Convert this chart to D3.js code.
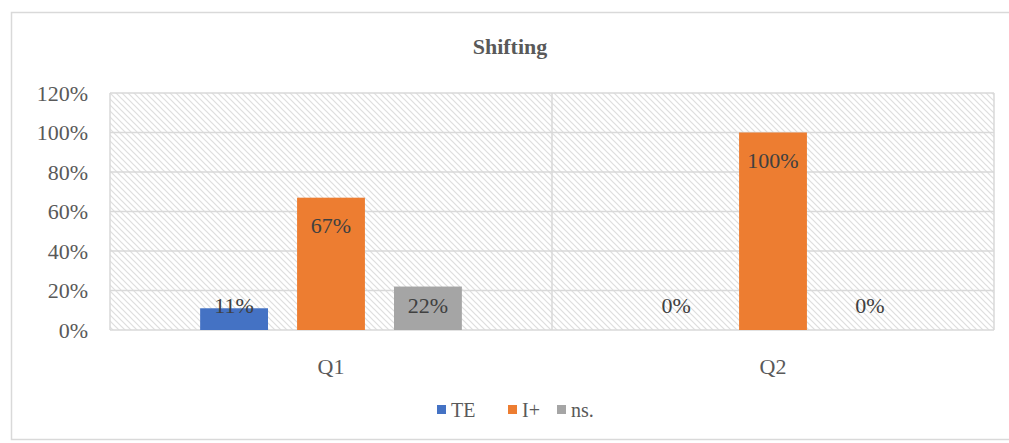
<!DOCTYPE html>
<html>
<head>
<meta charset="utf-8">
<script src="https://cdn.jsdelivr.net/npm/d3@7"></script>
<style>
  body { margin: 0; background: #fff; }
  svg { font-family: "Liberation Serif", "Times New Roman", serif; }
</style>
</head>
<body>
<svg width="1009" height="443"></svg>
<script>
const categories = ["Q1", "Q2"];
const seriesNames = ["TE", "I+", "ns."];
const teValues = [0.11, 0];
const iPlusValues = [0.67, 1.00];
const nsValues = [0.22, 0];
const yTicks = [0, 0.2, 0.4, 0.6, 0.8, 1.0, 1.2];

const colors = ["#4472C4", "#ED7D31", "#A5A5A5"];
const seriesValues = [teValues, iPlusValues, nsValues];

const svg = d3.select("svg");
const margin = { top: 93, right: 15, bottom: 113, left: 110 };
const width = 1009 - margin.left - margin.right;
const height = 443 - margin.top - margin.bottom;

// outer chart border
svg.append("rect")
    .attr("x", 11.5).attr("y", 12.5)
    .attr("width", 1009).attr("height", 427)
    .attr("fill", "none")
    .attr("stroke", "#d9d9d9")
    .attr("stroke-width", 1.5);

// hatch pattern for plot area
const defs = svg.append("defs");
const pat = defs.append("pattern")
    .attr("id", "hatch")
    .attr("patternUnits", "userSpaceOnUse")
    .attr("width", 6).attr("height", 6);
pat.append("rect").attr("width", 6).attr("height", 6).attr("fill", "#fff");
pat.append("path")
    .attr("d", "M-1,-1 L7,7 M-4,2 L1,7 M2,-4 L7,1")
    .attr("stroke", "#dedede")
    .attr("stroke-width", 1.2);

const chart = svg.append("g")
    .attr("transform", `translate(${margin.left},${margin.top})`);

const x = d3.scaleBand()
    .domain(categories)
    .range([0, width]);

const xInner = d3.scaleBand()
    .domain(seriesNames)
    .range([0, x.bandwidth()])
    .paddingInner(0.3)
    .paddingOuter(0.93);

const y = d3.scaleLinear()
    .domain([0, 1.2])
    .range([height, 0]);

chart.append("rect")
    .attr("width", width).attr("height", height)
    .attr("fill", "url(#hatch)");

// gridlines
chart.selectAll("line.grid")
  .data(yTicks)
  .enter()
  .append("line")
    .attr("class", "grid")
    .attr("x1", 0).attr("x2", width)
    .attr("y1", d => y(d)).attr("y2", d => y(d))
    .attr("stroke", "#d9d9d9")
    .attr("stroke-width", 1.5);

// category dividers
chart.selectAll("line.div")
  .data([0, 1, 2])
  .enter()
  .append("line")
    .attr("class", "div")
    .attr("x1", d => d * x.bandwidth()).attr("x2", d => d * x.bandwidth())
    .attr("y1", 0).attr("y2", height)
    .attr("stroke", "#d9d9d9")
    .attr("stroke-width", 1.5);

// y tick labels
chart.selectAll("text.ytick")
  .data(yTicks)
  .enter()
  .append("text")
    .attr("class", "ytick")
    .attr("x", -22)
    .attr("y", d => y(d))
    .attr("dy", "0.35em")
    .attr("text-anchor", "end")
    .attr("fill", "#595959")
    .attr("font-size", 22)
    .text(d => d3.format(".0%")(d));

// bars
const barData = [];
categories.forEach((c, ci) => {
  seriesNames.forEach((s, si) => {
    barData.push({ cat: c, series: s, value: seriesValues[si][ci], color: colors[si] });
  });
});

const groups = chart.selectAll("g.cat")
  .data(categories)
  .enter()
  .append("g")
    .attr("transform", d => `translate(${x(d)},0)`);

groups.selectAll("rect")
  .data(c => barData.filter(d => d.cat === c))
  .enter()
  .append("rect")
    .attr("x", d => xInner(d.series))
    .attr("y", d => y(d.value))
    .attr("width", xInner.bandwidth())
    .attr("height", d => height - y(d.value))
    .attr("fill", d => d.color);

groups.selectAll("text.label")
  .data(c => barData.filter(d => d.cat === c))
  .enter()
  .append("text")
    .attr("class", "label")
    .attr("x", d => xInner(d.series) + xInner.bandwidth() / 2)
    .attr("y", d => Math.min(y(d.value) + 35, height - 17))
    .attr("text-anchor", "middle")
    .attr("fill", "#404040")
    .attr("font-size", 22)
    .text(d => d3.format(".0%")(d.value));

// category labels
chart.selectAll("text.xtick")
  .data(categories)
  .enter()
  .append("text")
    .attr("class", "xtick")
    .attr("x", d => x(d) + x.bandwidth() / 2)
    .attr("y", height + 44)
    .attr("text-anchor", "middle")
    .attr("fill", "#595959")
    .attr("font-size", 22)
    .text(d => d);

// title
svg.append("text")
    .attr("x", 510)
    .attr("y", 54)
    .attr("text-anchor", "middle")
    .attr("fill", "#595959")
    .attr("font-size", 22)
    .attr("font-weight", "bold")
    .text("Shifting");

// legend
const legendX = [437, 508, 557];
const legend = svg.selectAll("g.legend")
  .data(seriesNames)
  .enter()
  .append("g")
    .attr("class", "legend")
    .attr("transform", (d, i) => `translate(${legendX[i]},405)`);

legend.append("rect")
    .attr("width", 9).attr("height", 9)
    .attr("fill", (d, i) => colors[i]);

legend.append("text")
    .attr("x", 14)
    .attr("y", 12)
    .attr("fill", "#595959")
    .attr("font-size", 20)
    .text(d => d);
</script>
</body>
</html>
